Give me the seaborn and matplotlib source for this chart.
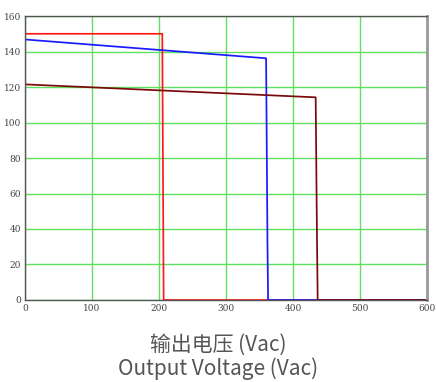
import matplotlib
matplotlib.use("Agg")
import matplotlib.pyplot as plt
import seaborn as sns

# Output voltage (Vac) vs. current curves for three models
red_v = [0, 205, 207, 600]
red_i = [150, 150, 0, 0]
blue_v = [0, 360, 362, 363, 600]
blue_i = [146.8, 136.2, 34, 0, 0]
dark_v = [0, 434, 436, 437, 600]
dark_i = [121.5, 114.2, 34, 0, 0]

x_ticks = [0, 100, 200, 300, 400, 500, 600]
y_ticks = [0, 20, 40, 60, 80, 100, 120, 140, 160]

sns.set_style("white")
plt.rcParams["font.family"] = ["Noto Sans CJK SC", "DejaVu Sans"]

fig = plt.figure(figsize=(4.36, 3.82), dpi=100)
ax = fig.add_axes([0.0573, 0.2147, 0.9217, 0.7433])

for xs, ys, c in [(red_v, red_i, "#ff1a1a"), (blue_v, blue_i, "#1a1aff"), (dark_v, dark_i, "#7a0a0a")]:
    sns.lineplot(x=xs, y=ys, sort=False, estimator=None, color=c, linewidth=1.25, ax=ax)

ax.set_xlim(0, 600)
ax.set_ylim(0, 160)
ax.set_xticks(x_ticks)
ax.set_yticks(y_ticks)
ax.grid(True, color="#5fe05f", linewidth=1.0)
ax.set_axisbelow(True)
ax.tick_params(axis="both", length=2, width=0.8, pad=1, labelsize=6.5, colors="#444444")
for lab in ax.get_xticklabels() + ax.get_yticklabels():
    lab.set_fontfamily(["DejaVu Serif"])
for side in ["left", "bottom", "top"]:
    ax.spines[side].set_color("#555555")
    ax.spines[side].set_linewidth(1.0)
ax.spines["right"].set_color("#999999")
ax.spines["right"].set_linewidth(2.0)

fig.text(0.5, 0.097, "输出电压 (Vac)", ha="center", va="center", fontsize=15, color="#555555")
fig.text(0.5, 0.034, "Output Voltage (Vac)", ha="center", va="center", fontsize=15, color="#555555")

fig.savefig("out.png", dpi=100)
